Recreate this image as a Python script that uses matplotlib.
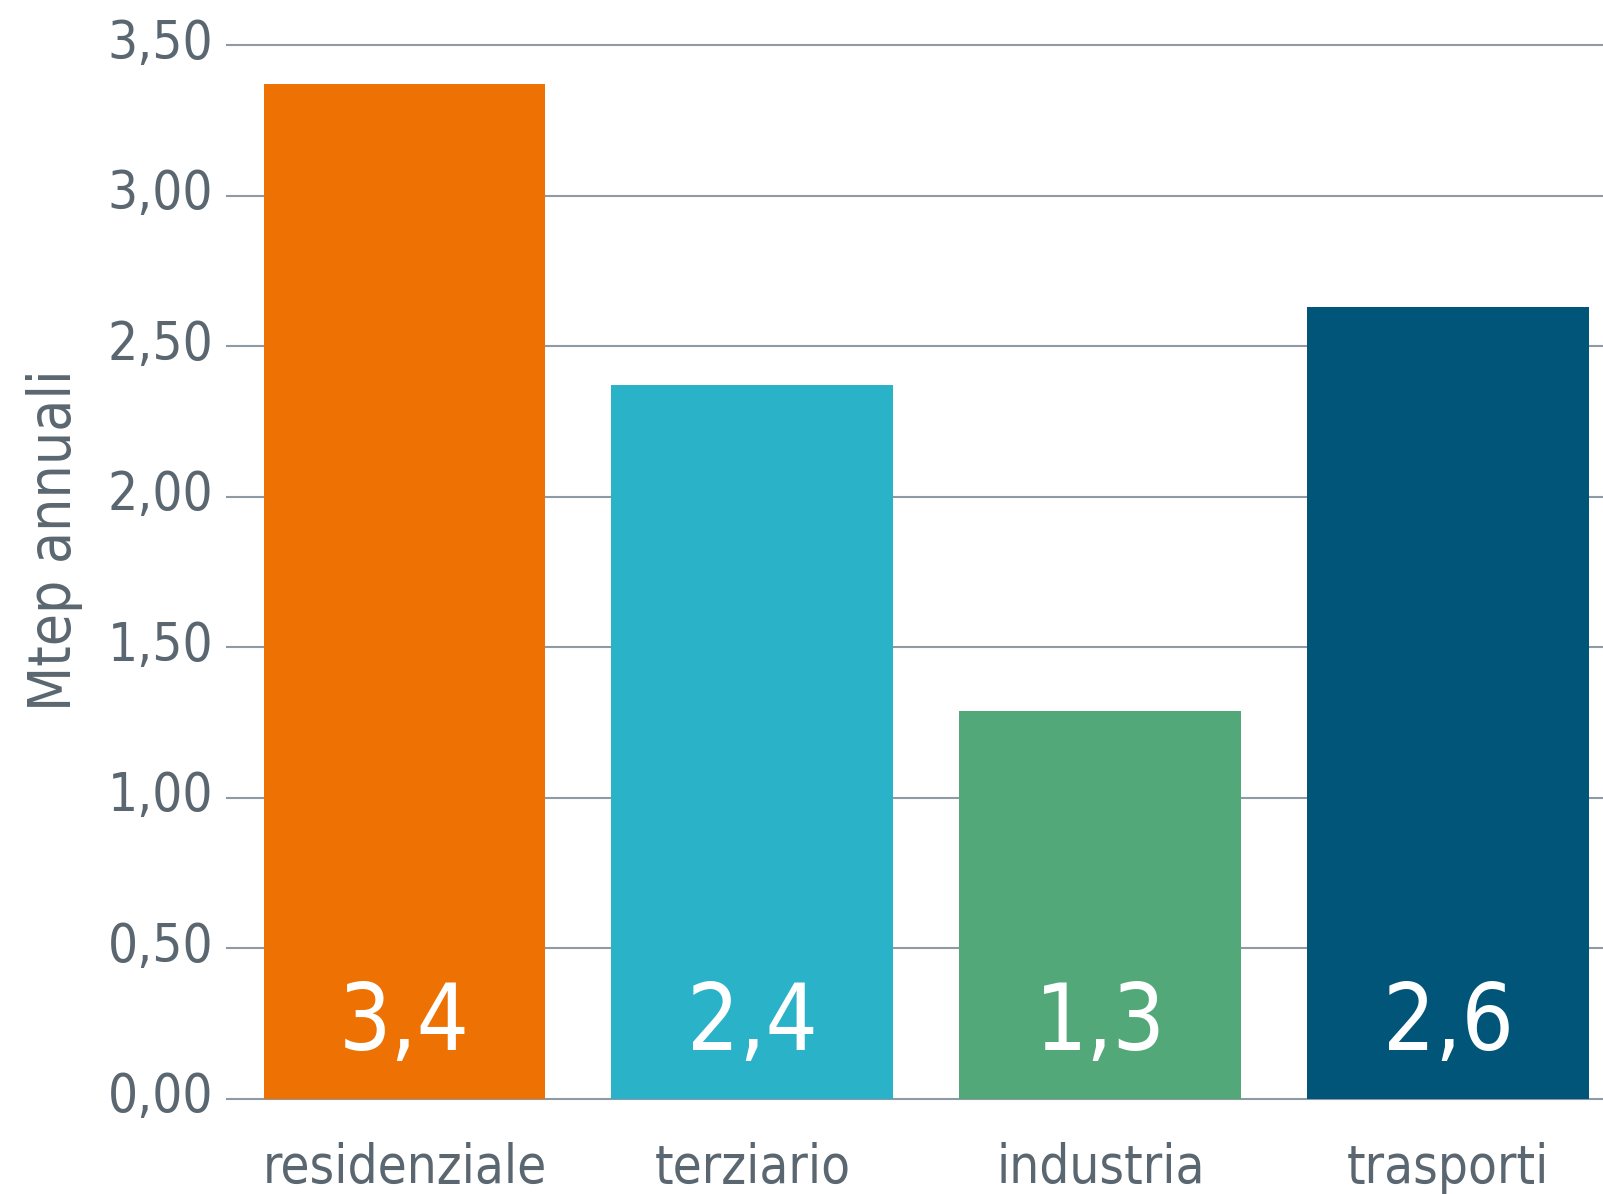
import matplotlib
matplotlib.use("Agg")
import matplotlib.pyplot as plt
from matplotlib.transforms import ScaledTranslation

# Data
categories = ["residenziale", "terziario", "industria", "trasporti"]
values = [3.37, 2.37, 1.29, 2.63]
bar_colors = ["#EE7203", "#29B2C8", "#52A878", "#005578"]
yticks = [0.0, 0.5, 1.0, 1.5, 2.0, 2.5, 3.0, 3.5]

TEXT_COLOR = "#5b6770"
GRID_COLOR = "#8e9ba4"

plt.rcParams["font.family"] = ["DejaVu Sans"]
plt.rcParams["font.stretch"] = "condensed"
plt.rcParams["font.weight"] = "light"

fig = plt.figure(figsize=(16.03, 11.94), dpi=100)
ax = fig.add_axes([0.1416, 0.0796, 0.8584, 0.8827])

x = range(len(categories))
ax.bar(x, values, width=0.81, color=bar_colors, zorder=2)

# horizontal grid lines
for t in yticks:
    ax.axhline(t, color=GRID_COLOR, lw=1.5, zorder=1, clip_on=False)

# value labels inside bars
for i, v in enumerate(values):
    ax.text(i, 0.25, f"{v:.1f}".replace(".", ","), color="white",
            fontsize=66, ha="center", va="center", zorder=3)

ax.set_xlim(-0.51, 3.445)
ax.set_ylim(0, 3.5)
ax.set_yticks(yticks)
ax.set_yticklabels([f"{t:.2f}".replace(".", ",") for t in yticks])
ax.set_xticks(list(x))
ax.set_xticklabels(categories)

ax.tick_params(axis="y", length=0, pad=10, labelsize=38, labelcolor=TEXT_COLOR)
ax.tick_params(axis="x", length=0, pad=31, labelsize=38, labelcolor=TEXT_COLOR)

# y tick labels sit a bit above their grid lines
shift = ScaledTranslation(0, 0.07, fig.dpi_scale_trans)
for lbl in ax.get_yticklabels():
    lbl.set_transform(lbl.get_transform() + shift)

ax.set_ylabel("Mtep annuali", fontsize=42, color=TEXT_COLOR)
ax.yaxis.set_label_coords(-0.105, 0.53)

for s in ax.spines.values():
    s.set_visible(False)

fig.savefig("out.png", dpi=100)
